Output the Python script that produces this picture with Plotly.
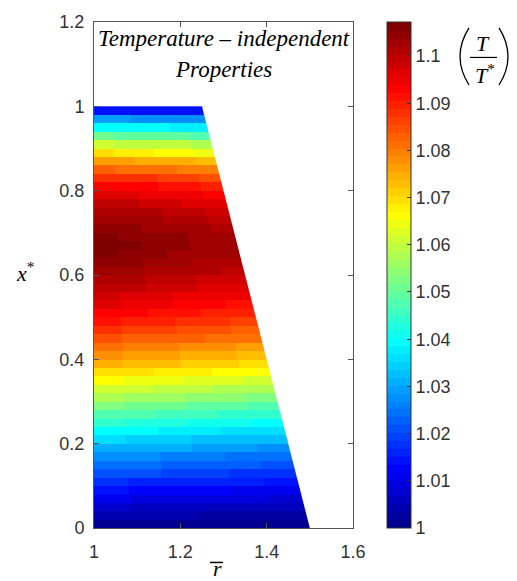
import numpy as np
import plotly.graph_objects as go

# Dimensionless temperature T/T* on the mesh: 50 axial rows (x* from 0 to 1),
# 6 mapped radial columns each (inner wall r=1 -> sloped outer wall).
TEMP = [
    [1.0009, 1.0007, 1.0006, 1.0004, 1.0002, 1.0001],
    [1.0039, 1.0036, 1.0034, 1.0031, 1.0029, 1.0026],
    [1.0068, 1.0065, 1.0062, 1.0058, 1.0055, 1.0052],
    [1.0103, 1.0099, 1.0095, 1.0090, 1.0086, 1.0082],
    [1.0137, 1.0132, 1.0127, 1.0122, 1.0117, 1.0112],
    [1.0172, 1.0167, 1.0162, 1.0157, 1.0152, 1.0147],
    [1.0207, 1.0201, 1.0195, 1.0190, 1.0184, 1.0178],
    [1.0242, 1.0236, 1.0230, 1.0225, 1.0219, 1.0213],
    [1.0277, 1.0270, 1.0263, 1.0257, 1.0250, 1.0243],
    [1.0317, 1.0310, 1.0303, 1.0297, 1.0290, 1.0283],
    [1.0356, 1.0349, 1.0341, 1.0334, 1.0326, 1.0319],
    [1.0396, 1.0389, 1.0381, 1.0374, 1.0366, 1.0359],
    [1.0436, 1.0429, 1.0421, 1.0414, 1.0406, 1.0399],
    [1.0481, 1.0472, 1.0464, 1.0456, 1.0447, 1.0439],
    [1.0526, 1.0517, 1.0509, 1.0501, 1.0492, 1.0484],
    [1.0571, 1.0562, 1.0554, 1.0546, 1.0537, 1.0529],
    [1.0616, 1.0607, 1.0599, 1.0591, 1.0582, 1.0574],
    [1.0661, 1.0652, 1.0644, 1.0636, 1.0627, 1.0619],
    [1.0701, 1.0692, 1.0684, 1.0676, 1.0667, 1.0659],
    [1.0741, 1.0732, 1.0724, 1.0716, 1.0707, 1.0699],
    [1.0776, 1.0767, 1.0759, 1.0751, 1.0742, 1.0734],
    [1.0811, 1.0802, 1.0794, 1.0786, 1.0777, 1.0769],
    [1.0846, 1.0837, 1.0829, 1.0821, 1.0812, 1.0804],
    [1.0876, 1.0867, 1.0859, 1.0851, 1.0842, 1.0834],
    [1.0906, 1.0897, 1.0889, 1.0881, 1.0872, 1.0864],
    [1.0936, 1.0927, 1.0919, 1.0911, 1.0902, 1.0894],
    [1.0956, 1.0947, 1.0939, 1.0931, 1.0922, 1.0914],
    [1.0976, 1.0969, 1.0961, 1.0954, 1.0946, 1.0939],
    [1.0996, 1.0989, 1.0981, 1.0974, 1.0966, 1.0959],
    [1.1016, 1.1009, 1.1001, 1.0994, 1.0986, 1.0979],
    [1.1032, 1.1025, 1.1018, 1.1012, 1.1005, 1.0998],
    [1.1047, 1.1040, 1.1033, 1.1027, 1.1020, 1.1013],
    [1.1057, 1.1050, 1.1043, 1.1037, 1.1030, 1.1023],
    [1.1063, 1.1056, 1.1049, 1.1043, 1.1036, 1.1029],
    [1.1059, 1.1052, 1.1045, 1.1039, 1.1032, 1.1025],
    [1.1049, 1.1042, 1.1035, 1.1029, 1.1022, 1.1015],
    [1.1037, 1.1030, 1.1023, 1.1017, 1.1010, 1.1003],
    [1.1019, 1.1012, 1.1005, 1.0999, 1.0992, 1.0985],
    [1.0997, 1.0990, 1.0983, 1.0977, 1.0970, 1.0963],
    [1.0967, 1.0960, 1.0953, 1.0947, 1.0940, 1.0933],
    [1.0937, 1.0930, 1.0923, 1.0917, 1.0910, 1.0903],
    [1.0887, 1.0880, 1.0873, 1.0867, 1.0860, 1.0853],
    [1.0827, 1.0820, 1.0813, 1.0807, 1.0800, 1.0793],
    [1.0767, 1.0760, 1.0753, 1.0747, 1.0740, 1.0733],
    [1.0687, 1.0680, 1.0673, 1.0667, 1.0660, 1.0653],
    [1.0607, 1.0602, 1.0597, 1.0592, 1.0587, 1.0582],
    [1.0507, 1.0502, 1.0497, 1.0492, 1.0487, 1.0482],
    [1.0398, 1.0395, 1.0392, 1.0388, 1.0385, 1.0382],
    [1.0288, 1.0285, 1.0282, 1.0278, 1.0275, 1.0272],
    [1.0149, 1.0147, 1.0146, 1.0144, 1.0142, 1.0141],
]

# Domain geometry: inner wall r=1, outer wall from r=1.5 (x*=0) to r=1.25 (x*=1)
R_INNER = 1.0
R_OUTER_BOTTOM = 1.5
R_OUTER_TOP = 1.25

CB_MIN, CB_MAX = 1.0, 1.1072
CB_TICKS = [1.0, 1.01, 1.02, 1.03, 1.04, 1.05, 1.06, 1.07, 1.08, 1.09, 1.1]
CB_TICKTEXT = ["1", "1.01", "1.02", "1.03", "1.04", "1.05", "1.06", "1.07", "1.08", "1.09", "1.1"]
X_TICKS = [1.0, 1.2, 1.4, 1.6]
X_TICKTEXT = ["1", "1.2", "1.4", "1.6"]
Y_TICKS = [0.0, 0.2, 0.4, 0.6, 0.8, 1.0, 1.2]
Y_TICKTEXT = ["0", "0.2", "0.4", "0.6", "0.8", "1", "1.2"]


def matlab_jet(m=64):
    n = int(np.ceil(m / 4))
    u = np.concatenate([np.arange(1, n + 1) / n, np.ones(n - 1), np.arange(n, 0, -1) / n])
    g = int(np.ceil(n / 2)) - (1 if m % 4 == 1 else 0) + np.arange(1, len(u) + 1)
    J = np.zeros((m, 3))
    for col, idx in ((0, g + n), (1, g), (2, g - n)):
        for i, val in zip(idx, u):
            if 1 <= i <= m:
                J[i - 1, col] = val
    return J


jet = matlab_jet(64)
colorscale = []
for k, c in enumerate(jet):
    rgb = "rgb(%d,%d,%d)" % tuple(int(round(v * 255)) for v in c)
    colorscale.append([k / 64, rgb])
    colorscale.append([(k + 1) / 64, rgb])

# Render the mapped (trapezoidal) mesh on a fine rectangular raster
temp = np.array(TEMP)
n_rows, n_cols = temp.shape
x_edges = np.linspace(0.0, 1.0, n_rows + 1)
r_edges = np.linspace(R_INNER, R_OUTER_BOTTOM, 251)
r_mid = 0.5 * (r_edges[:-1] + r_edges[1:])
z = np.full((n_rows, len(r_mid)), np.nan)
for i in range(n_rows):
    x_lo, x_hi = x_edges[i], x_edges[i + 1]
    x_c = 0.5 * (x_lo + x_hi)
    rw_c = R_OUTER_BOTTOM + (R_OUTER_TOP - R_OUTER_BOTTOM) * x_c
    rw_lo = R_OUTER_BOTTOM + (R_OUTER_TOP - R_OUTER_BOTTOM) * x_lo
    xi = np.clip((r_mid - R_INNER) / (rw_c - R_INNER), 0, 0.99999)
    k = (xi * n_cols).astype(int)
    row = temp[i, k]
    row[r_mid > rw_lo + 0.003] = np.nan
    z[i] = row
z_list = [[None if np.isnan(v) else float(v) for v in row] for row in z]

fig = go.Figure()
fig.add_trace(go.Heatmap(
    x=r_edges, y=x_edges, z=z_list,
    zmin=CB_MIN, zmax=CB_MAX, colorscale=colorscale, zsmooth=False,
    hoverinfo="skip",
    colorbar=dict(
        thickness=24, thicknessmode="pixels",
        len=1.0, lenmode="fraction",
        x=1.131, xanchor="left", xpad=0,
        y=0.5, yanchor="middle", ypad=0,
        outlinewidth=1, outlinecolor="#333333",
        ticks="inside", ticklen=4, tickcolor="#333333",
        tickvals=CB_TICKS, ticktext=CB_TICKTEXT,
        tickfont=dict(family="Liberation Sans, Arial", size=18, color="#333333"),
    ),
))

# White cover right of the sloped outer wall gives a clean edge
fig.add_trace(go.Scatter(
    x=[R_OUTER_BOTTOM, R_OUTER_TOP, 1.7, 1.7, R_OUTER_BOTTOM],
    y=[0.0, 1.0, 1.0, 0.0, 0.0],
    mode="lines", fill="toself", fillcolor="white",
    line=dict(width=0, color="white"), hoverinfo="skip", showlegend=False,
))

W, H = 517, 581
L_M, R_M, T_M, B_M = 94, 164, 14, 53
PW, PH = W - L_M - R_M, H - T_M - B_M


def px(xp):
    return (xp - L_M) / PW


def py(yp):
    return (H - B_M - yp) / PH


axis_common = dict(
    showgrid=False, zeroline=False, showline=True, linecolor="#555555", linewidth=1,
    mirror="ticks", ticks="inside", ticklen=5, tickcolor="#555555",
    tickfont=dict(family="Liberation Sans, Arial", size=18, color="#333333"),
)

serif = "Liberation Serif, Times New Roman, serif"
fig.update_layout(
    width=W, height=H,
    margin=dict(l=L_M, r=R_M, t=T_M, b=B_M),
    paper_bgcolor="white", plot_bgcolor="white",
    showlegend=False,
    xaxis=dict(range=[1.0, 1.6], tickvals=X_TICKS, ticktext=X_TICKTEXT,
               ticklabelstandoff=7, **axis_common),
    yaxis=dict(range=[0.0, 1.2], tickvals=Y_TICKS, ticktext=Y_TICKTEXT,
               ticklabelstandoff=5, **axis_common),
    annotations=[
        dict(text="<i>Temperature – independent</i>", x=1.3, y=1.162, xref="x", yref="y",
             showarrow=False, font=dict(family=serif, size=23, color="black"),
             xanchor="center", yanchor="middle"),
        dict(text="<i>Properties</i>", x=1.3, y=1.087, xref="x", yref="y",
             showarrow=False, font=dict(family=serif, size=23, color="black"),
             xanchor="center", yanchor="middle"),
        dict(text="<i>r</i>", x=px(217), y=py(583), xref="paper", yref="paper",
             showarrow=False, font=dict(family=serif, size=22, color="black"),
             xanchor="center", yanchor="bottom", borderpad=0),
        dict(text="<i>x</i><sup>*</sup>", x=px(25), y=py(268), xref="paper", yref="paper",
             showarrow=False, font=dict(family=serif, size=22, color="black"),
             xanchor="center", yanchor="middle"),
        dict(text="<i>T</i>", x=px(483), y=py(36), xref="paper", yref="paper",
             showarrow=False, font=dict(family=serif, size=22, color="black"),
             xanchor="center", yanchor="middle"),
        dict(text="<i>T</i><sup>*</sup>", x=px(485), y=py(67), xref="paper", yref="paper",
             showarrow=False, font=dict(family=serif, size=22, color="black"),
             xanchor="center", yanchor="middle"),
    ],
    shapes=[
        # overbar of r
        dict(type="line", xref="paper", yref="paper",
             x0=px(210), x1=px(223), y0=py(563), y1=py(563),
             line=dict(color="black", width=1.5)),
        # fraction bar
        dict(type="line", xref="paper", yref="paper",
             x0=px(470), x1=px(497), y0=py(50), y1=py(50),
             line=dict(color="black", width=1.2)),
        # parentheses
        dict(type="path", xref="paper", yref="paper",
             path="M %f,%f Q %f,%f %f,%f" % (px(469), py(20), px(451), py(49), px(469), py(78)),
             line=dict(color="black", width=1.3)),
        dict(type="path", xref="paper", yref="paper",
             path="M %f,%f Q %f,%f %f,%f" % (px(499), py(20), px(517), py(49), px(499), py(78)),
             line=dict(color="black", width=1.3)),
    ],
)

fig.write_html("out.html")
